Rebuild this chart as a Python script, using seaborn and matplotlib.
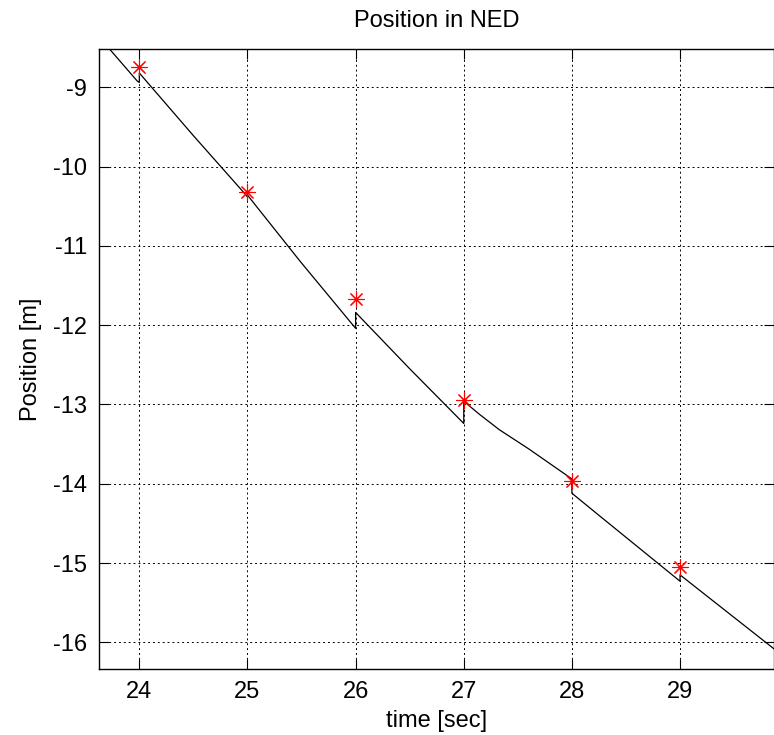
import numpy as np
import pandas as pd
import matplotlib
matplotlib.use('Agg')
import matplotlib.pyplot as plt
import seaborn as sns

# estimated (filtered) position track; jumps at each fix
track_t = [23.65, 23.98, 24.00, 24.00, 24.50, 25.00, 25.00, 25.49, 26.00, 26.00,
           26.50, 27.00, 27.00, 27.15, 27.33, 27.60, 28.00, 28.00, 28.26, 29.00,
           29.00, 29.95]
track_y = [-8.40, -8.92, -8.94, -8.82, -9.61, -10.38, -10.36, -11.20, -12.04, -11.84,
           -12.55, -13.24, -12.96, -13.13, -13.32, -13.56, -13.94, -14.12, -14.41, -15.23,
           -15.15, -16.17]

# measurement fixes (red stars)
fix_t = [24, 25, 26, 27, 28, 29]
fix_y = [-8.74, -10.32, -11.67, -12.95, -13.97, -15.05]

xticks = [24, 25, 26, 27, 28, 29]
yticks = [-16, -15, -14, -13, -12, -11, -10, -9]

sns.set_theme(style='white')
plt.rcParams['font.family'] = ['Liberation Sans', 'DejaVu Sans']
plt.rcParams['font.size'] = 17
plt.rcParams['text.color'] = 'black'
plt.rcParams['axes.labelcolor'] = 'black'

fig = plt.figure(figsize=(7.74, 7.35), dpi=100)
ax = fig.add_axes([99.3 / 774, 66.3 / 735, 674.2 / 774, 619.4 / 735])

track = pd.DataFrame({'t': track_t, 'y': track_y})
fixes = pd.DataFrame({'t': fix_t, 'y': fix_y})

sns.lineplot(data=track, x='t', y='y', estimator=None, sort=False,
             color='black', linewidth=0.9, ax=ax)
sns.scatterplot(data=fixes, x='t', y='y', marker=(8, 2, 0), s=130,
                color='red', edgecolor='red', linewidth=0.8, ax=ax, zorder=3)

ax.set_xlim(23.63, 29.864)
ax.set_ylim(-16.333, -8.521)
ax.set_xticks(xticks)
ax.set_yticks(yticks)
ax.set_xticklabels([str(v) for v in xticks], fontsize=17)
ax.set_yticklabels([str(v) for v in yticks], fontsize=17)

ax.grid(True, color='black', linestyle=(0, (2, 3)), linewidth=0.7)
ax.tick_params(direction='in', length=7, width=0.8, top=True, right=True,
               bottom=True, left=True, pad=9, colors='black')
for sp in ax.spines.values():
    sp.set_visible(True)
    sp.set_color('black')
    sp.set_linewidth(1.0)

ax.set_title('Position in NED', fontsize=17, pad=16, color='black')
ax.set_xlabel('time [sec]', fontsize=17, labelpad=5, color='black')
ax.set_ylabel('Position [m]', fontsize=17, labelpad=8, color='black')

fig.savefig('out.png', dpi=100)
